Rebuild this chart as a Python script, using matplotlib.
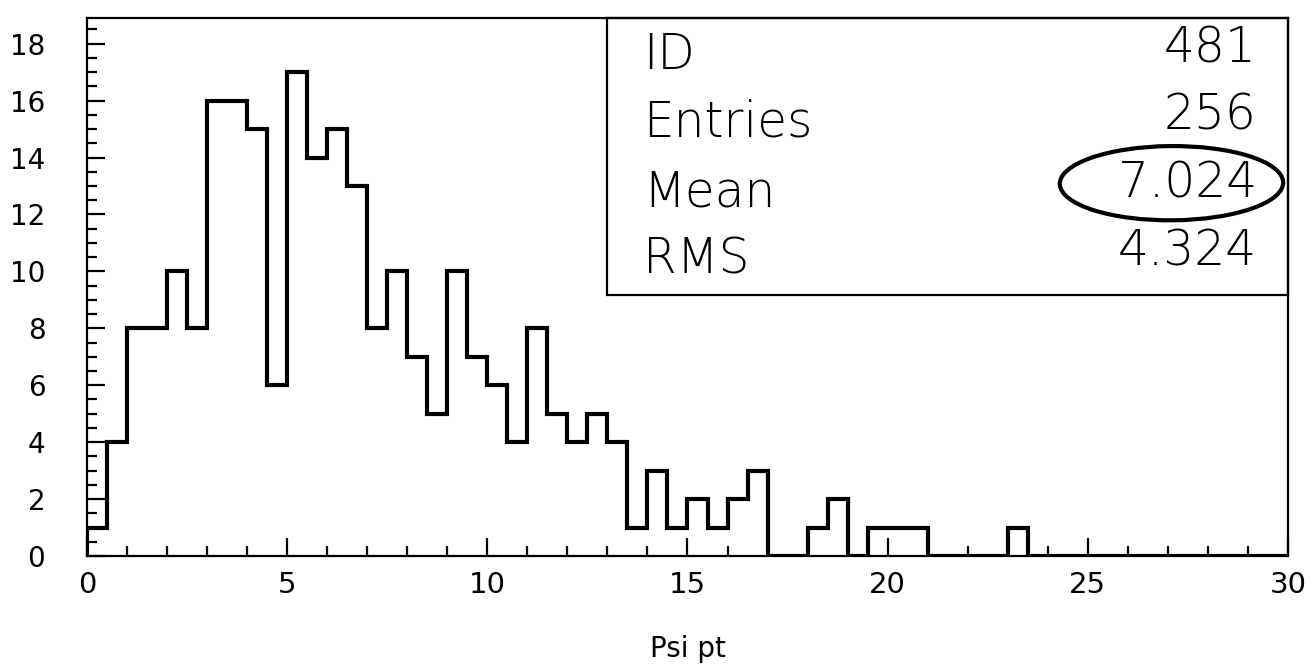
import matplotlib
matplotlib.use("Agg")
import matplotlib.pyplot as plt
import numpy as np
from matplotlib.patches import Ellipse, Rectangle
from matplotlib.ticker import MultipleLocator

# Histogram of Psi pt: 60 bins of width 0.5 on [0, 30]
x_range = (0.0, 30.0)
n_bins = 60
counts = [1, 4, 8, 8, 10, 8, 16, 16, 15, 6,
          17, 14, 15, 13, 8, 10, 7, 5, 10, 7,
          6, 4, 8, 5, 4, 5, 4, 1, 3, 1,
          2, 1, 2, 3, 0, 0, 1, 2, 0, 1,
          1, 1, 0, 0, 0, 0, 1, 0, 0, 0,
          0, 0, 0, 0, 0, 0, 0, 0, 0, 0]

# Statistics box entries
stat_names = ["ID", "Entries", "Mean", "RMS"]
stat_values = ["481", "256", "7.024", "4.324"]

x_label = "Psi pt"
y_max = 18.9

plt.rcParams["font.family"] = ["DejaVu Sans"]

fig = plt.figure(figsize=(13.12, 6.68), dpi=100)
ax = fig.add_axes([0.0663, 0.1677, 0.9154, 0.8053])

edges = np.linspace(x_range[0], x_range[1], n_bins + 1)
ax.stairs(counts, edges, baseline=0, color="black", linewidth=3.0)

ax.set_xlim(*x_range)
ax.set_ylim(0, y_max)

for side in ["left", "bottom", "top", "right"]:
    ax.spines[side].set_linewidth(1.6)

ax.xaxis.set_major_locator(MultipleLocator(5))
ax.xaxis.set_minor_locator(MultipleLocator(1))
ax.yaxis.set_major_locator(MultipleLocator(2))
ax.yaxis.set_minor_locator(MultipleLocator(0.5))
ax.tick_params(axis="both", which="both", direction="in", top=False, right=False,
               width=1.6, color="black")
ax.tick_params(axis="x", which="major", length=13, pad=11, labelsize=21)
ax.tick_params(axis="x", which="minor", length=7)
ax.tick_params(axis="y", which="major", length=13, pad=30, labelsize=20)
ax.tick_params(axis="y", which="minor", length=7)

ax.set_xlabel(x_label, fontsize=20, labelpad=26)

# Statistics box in the upper right corner
box_x0, box_y0 = 0.433, 0.485
ax.add_patch(Rectangle((box_x0, box_y0), 1.0 - box_x0, 1.0 - box_y0,
                       transform=ax.transAxes, fill=False, edgecolor="black",
                       linewidth=1.6, clip_on=False, zorder=5))
name_y = [0.932, 0.806, 0.676, 0.552]
value_y = [0.944, 0.818, 0.693, 0.566]
for name, value, yn, yv in zip(stat_names, stat_values, name_y, value_y):
    ax.text(0.463, yn, name, transform=ax.transAxes, ha="left", va="center",
            fontsize=35, fontweight="light", color="black")
    ax.text(0.974, yv, value, transform=ax.transAxes, ha="right", va="center",
            fontsize=35, fontweight="light", color="black")

# Hand-drawn ring around the mean value
ax.add_patch(Ellipse((0.903, 0.693), 0.186, 0.138, angle=1.5,
                     transform=ax.transAxes, fill=False, edgecolor="black",
                     linewidth=3.0, clip_on=False, zorder=6))

fig.savefig("out.png", dpi=100)
